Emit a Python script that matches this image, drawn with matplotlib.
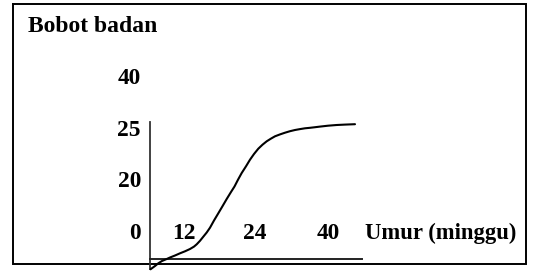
import matplotlib.pyplot as plt

# Sketch diagram: body weight growth curve. Units follow the drawing (image px).
curve_x = [150.5, 155, 158.3, 162, 166.7, 170, 175, 180, 185, 190, 194, 196.7,
           200, 203.3, 206.7, 210, 214, 218.3, 222.5, 226.7, 231, 234.5, 238,
           241.7, 246, 250, 254, 258.3, 262.5, 266.7, 271, 275, 280, 285, 290,
           295, 300, 305, 310, 314.3, 320, 328, 336.7, 345, 355]
curve_y = [269.3, 266, 263.3, 261, 259, 257.5, 255.5, 253.3, 251.3, 249, 246.6,
           244.3, 240.8, 236.7, 232.5, 227.7, 220.5, 213.3, 206.2, 199, 192,
           186.5, 179.7, 173, 166.3, 159.7, 154, 148.7, 144.7, 141.3, 138.6,
           136.3, 134.4, 132.7, 131.2, 130, 129.1, 128.3, 127.8, 127.3, 126.6,
           125.7, 125, 124.6, 124.2]

y_labels = ["40", "25", "20", "0"]
y_label_pos = [84, 136, 187, 239]
x_labels = ["12", "24", "40"]
x_label_pos = [184, 255, 328]
baseline_x = 239

titulo = "Bobot badan"
rotulo_x = "Umur (minggu)"

FONTE = ["Liberation Serif", "DejaVu Serif"]

fig = plt.figure(figsize=(5.39, 2.80), dpi=100)
ax = fig.add_axes([0, 0, 1, 1])
ax.set_xlim(0, 539)
ax.set_ylim(280, 0)
ax.axis("off")

# moldura
ax.plot([12.5, 525.5, 525.5, 12.5, 12.5], [3.5, 3.5, 263.5, 263.5, 3.5],
        color="black", lw=1.4, solid_joinstyle="miter")

# eixos desenhados a mao
ax.plot([150, 150], [122, 269], color="#333333", lw=1.3)
ax.plot([150, 362], [258.5, 258.5], color="#222222", lw=1.4)

# curva de crescimento
ax.plot(curve_x, curve_y, color="black", lw=1.5, solid_capstyle="round",
        solid_joinstyle="round")

ax.text(28, 32, titulo, family=FONTE, weight="bold", fontsize=17,
        ha="left", va="baseline")

for lab, y in zip(y_labels, y_label_pos):
    ax.text(141, y, lab, family=FONTE, weight="bold", fontsize=16.8,
            ha="right", va="baseline")

for lab, x in zip(x_labels, x_label_pos):
    ax.text(x, baseline_x, lab, family=FONTE, weight="bold", fontsize=16.8,
            ha="center", va="baseline")

ax.text(365, baseline_x, rotulo_x, family=FONTE, weight="bold", fontsize=16.3,
        ha="left", va="baseline")

fig.savefig("out.png", dpi=100, facecolor="white")
